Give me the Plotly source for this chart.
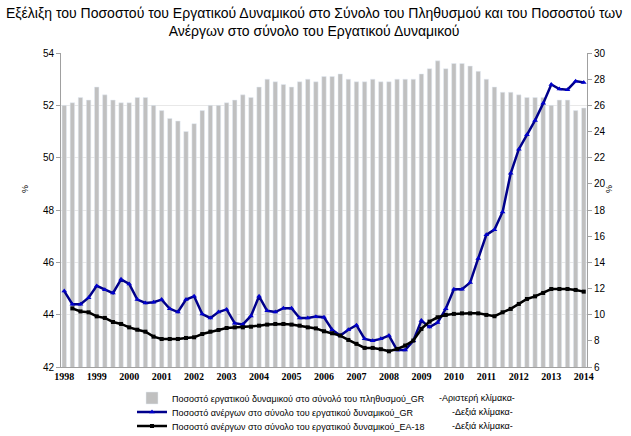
import plotly.graph_objects as go

# quarterly data, 1998Q1 .. 2014Q1
years = list(range(1998, 2015))
quarters = [f"{y}Q{q}" for y in years for q in range(1, 5)][:65]

labour_force_gr = [
    52.0, 52.1, 52.3, 52.2, 52.7, 52.4, 52.2, 52.1, 52.1, 52.3, 52.3, 52.0,
    51.8, 51.5, 51.4, 51.0, 51.3, 51.8, 52.0, 52.0, 52.1, 52.2, 52.4, 52.3,
    52.7, 53.0, 52.9, 52.8, 52.7, 52.9, 53.0, 52.9, 53.1, 53.1, 53.2, 53.0,
    52.9, 52.9, 53.0, 52.9, 52.9, 53.0, 53.0, 53.0, 53.2, 53.4, 53.7, 53.4,
    53.6, 53.6, 53.5, 53.3, 53.0, 52.7, 52.5, 52.5, 52.4, 52.3, 52.3, 52.3,
    52.0, 52.2, 52.2, 51.8, 51.9,
]

unemployment_gr = [
    11.8, 10.8, 10.8, 11.3, 12.2, 11.9, 11.65, 12.7, 12.35, 11.15, 10.9, 10.95,
    11.15, 10.45, 10.2, 11.15, 11.4, 10.05, 9.75, 10.2, 10.4, 9.35, 9.25, 9.9,
    11.4, 10.3, 10.2, 10.5, 10.5, 9.75, 9.75, 9.85, 9.8, 8.85, 8.4, 8.85,
    9.2, 8.15, 8.0, 8.15, 8.4, 7.3, 7.3, 8.0, 9.55, 9.05, 9.4, 10.45,
    11.95, 11.95, 12.45, 14.3, 16.1, 16.5, 17.85, 20.8, 22.65, 23.75, 24.85, 26.15,
    27.6, 27.25, 27.2, 27.85, 27.75,
]

unemployment_ea18 = [
    None, 10.48, 10.25, 10.18, 9.87, 9.75, 9.44, 9.29, 9.03, 8.85, 8.7, 8.32,
    8.14, 8.14, 8.14, 8.22, 8.27, 8.52, 8.7, 8.83, 8.98, 9.03, 9.03, 9.08,
    9.16, 9.24, 9.29, 9.29, 9.24, 9.16, 9.03, 8.95, 8.73, 8.58, 8.4, 8.07,
    7.77, 7.46, 7.46, 7.36, 7.2, 7.38, 7.64, 8.02, 8.91, 9.47, 9.8, 9.98,
    10.06, 10.1, 10.1, 10.1, 9.98, 9.88, 10.18, 10.44, 10.82, 11.2, 11.4, 11.66,
    11.96, 11.96, 11.96, 11.89, 11.76,
]

names = [
    "Ποσοστό εργατικού δυναμικού στο σύνολό του πληθυσμού_GR",
    "Ποσοστό ανέργων στο σύνολο του εργατικού δυναμικού_GR",
    "Ποσοστό ανέργων στο σύνολο του εργατικού δυναμικού_EA-18",
]
scale_notes = ["-Αριστερή κλίμακα-", "-Δεξιά κλίμακα-", "-Δεξιά κλίμακα-"]

title = ("Εξέλιξη του Ποσοστού του Εργατικού Δυναμικού στο Σύνολο του Πληθυσμού και του Ποσοστού των<br>"
         "Ανέργων στο σύνολο του Εργατικού Δυναμικού")

x = list(range(len(quarters)))
FONT = "Liberation Sans, Arial, sans-serif"
W, H = 631, 436
L, R, T, B = 61, 44, 53, 69
PW, PH = W - L - R, H - T - B


def px(xp):
    return (xp - L) / PW


def py(yp):
    return (H - B - yp) / PH


fig = go.Figure()
fig.add_trace(go.Bar(x=x, y=labour_force_gr, name=names[0], marker_color="#C0C0C0",
                     width=0.55, yaxis="y", legend="legend"))
fig.add_trace(go.Scatter(x=x, y=unemployment_gr, name=names[1], yaxis="y2", mode="lines+markers",
                         line=dict(color="#00008C", width=2.5),
                         marker=dict(symbol="triangle-up", size=5, color="#0000CC"),
                         legend="legend2"))
fig.add_trace(go.Scatter(x=x, y=unemployment_ea18, name=names[2], yaxis="y2", mode="lines+markers",
                         line=dict(color="#000000", width=2.5),
                         marker=dict(symbol="square", size=4, color="#000000"),
                         legend="legend3"))

legend_rows = [398, 412, 426]


def legend_box(row):
    return dict(x=132 / W, y=1 - row / H, xref="container", yref="container",
                xanchor="left", yanchor="middle", orientation="v",
                font=dict(family=FONT, size=9, color="#000"), bgcolor="rgba(0,0,0,0)")


for note, row, xpx in zip(scale_notes, legend_rows, [437, 450, 450]):
    fig.add_annotation(text=note, xref="paper", yref="paper", x=px(xpx), y=py(row),
                       xanchor="left", yanchor="middle", showarrow=False,
                       font=dict(family=FONT, size=9, color="#000"))

fig.add_annotation(text=title, xref="paper", yref="paper", x=px(314), y=py(22),
                   xanchor="center", yanchor="middle", showarrow=False,
                   font=dict(family=FONT, size=14, color="#000"))

# axis unit labels
for xpx in (25, 609):
    fig.add_annotation(text="%", xref="paper", yref="paper", x=px(xpx), y=py(189),
                       xanchor="center", yanchor="middle", showarrow=False, textangle=-90,
                       font=dict(family=FONT, size=9, color="#000"))

fig.update_layout(
    width=W, height=H,
    margin=dict(l=L, r=R, t=T, b=B, autoexpand=False),
    paper_bgcolor="white", plot_bgcolor="white",
    font=dict(family=FONT, size=10, color="#000"),
    bargap=0.45,
    showlegend=True,
    legend=legend_box(legend_rows[0]),
    legend2=legend_box(legend_rows[1]),
    legend3=legend_box(legend_rows[2]),
    xaxis=dict(range=[-0.4, 64.4], tickmode="array",
               tickvals=[i * 4 for i in range(len(years))], ticktext=[str(y) for y in years],
               tickfont=dict(family="Liberation Serif, Times New Roman, serif", size=10,
                             color="#000", weight="bold"),
               showgrid=False, showline=True, linecolor="#A0A0A0", ticks="", zeroline=False),
    yaxis=dict(range=[42, 54], dtick=2, showgrid=True, gridcolor="#E8E8E8",
               showline=True, linecolor="#A0A0A0", ticks="outside", ticklen=4, tickcolor="#A0A0A0",
               zeroline=False),
    yaxis2=dict(range=[6, 30], dtick=2, overlaying="y", side="right", showgrid=False,
                showline=True, linecolor="#A0A0A0", ticks="outside", ticklen=4, tickcolor="#A0A0A0",
                zeroline=False),
)

# the page body has an 8px default margin; drop it so the chart fills the window
fig.write_html("out.html", config={"displayModeBar": False},
               post_script="document.body.style.margin='0';")
